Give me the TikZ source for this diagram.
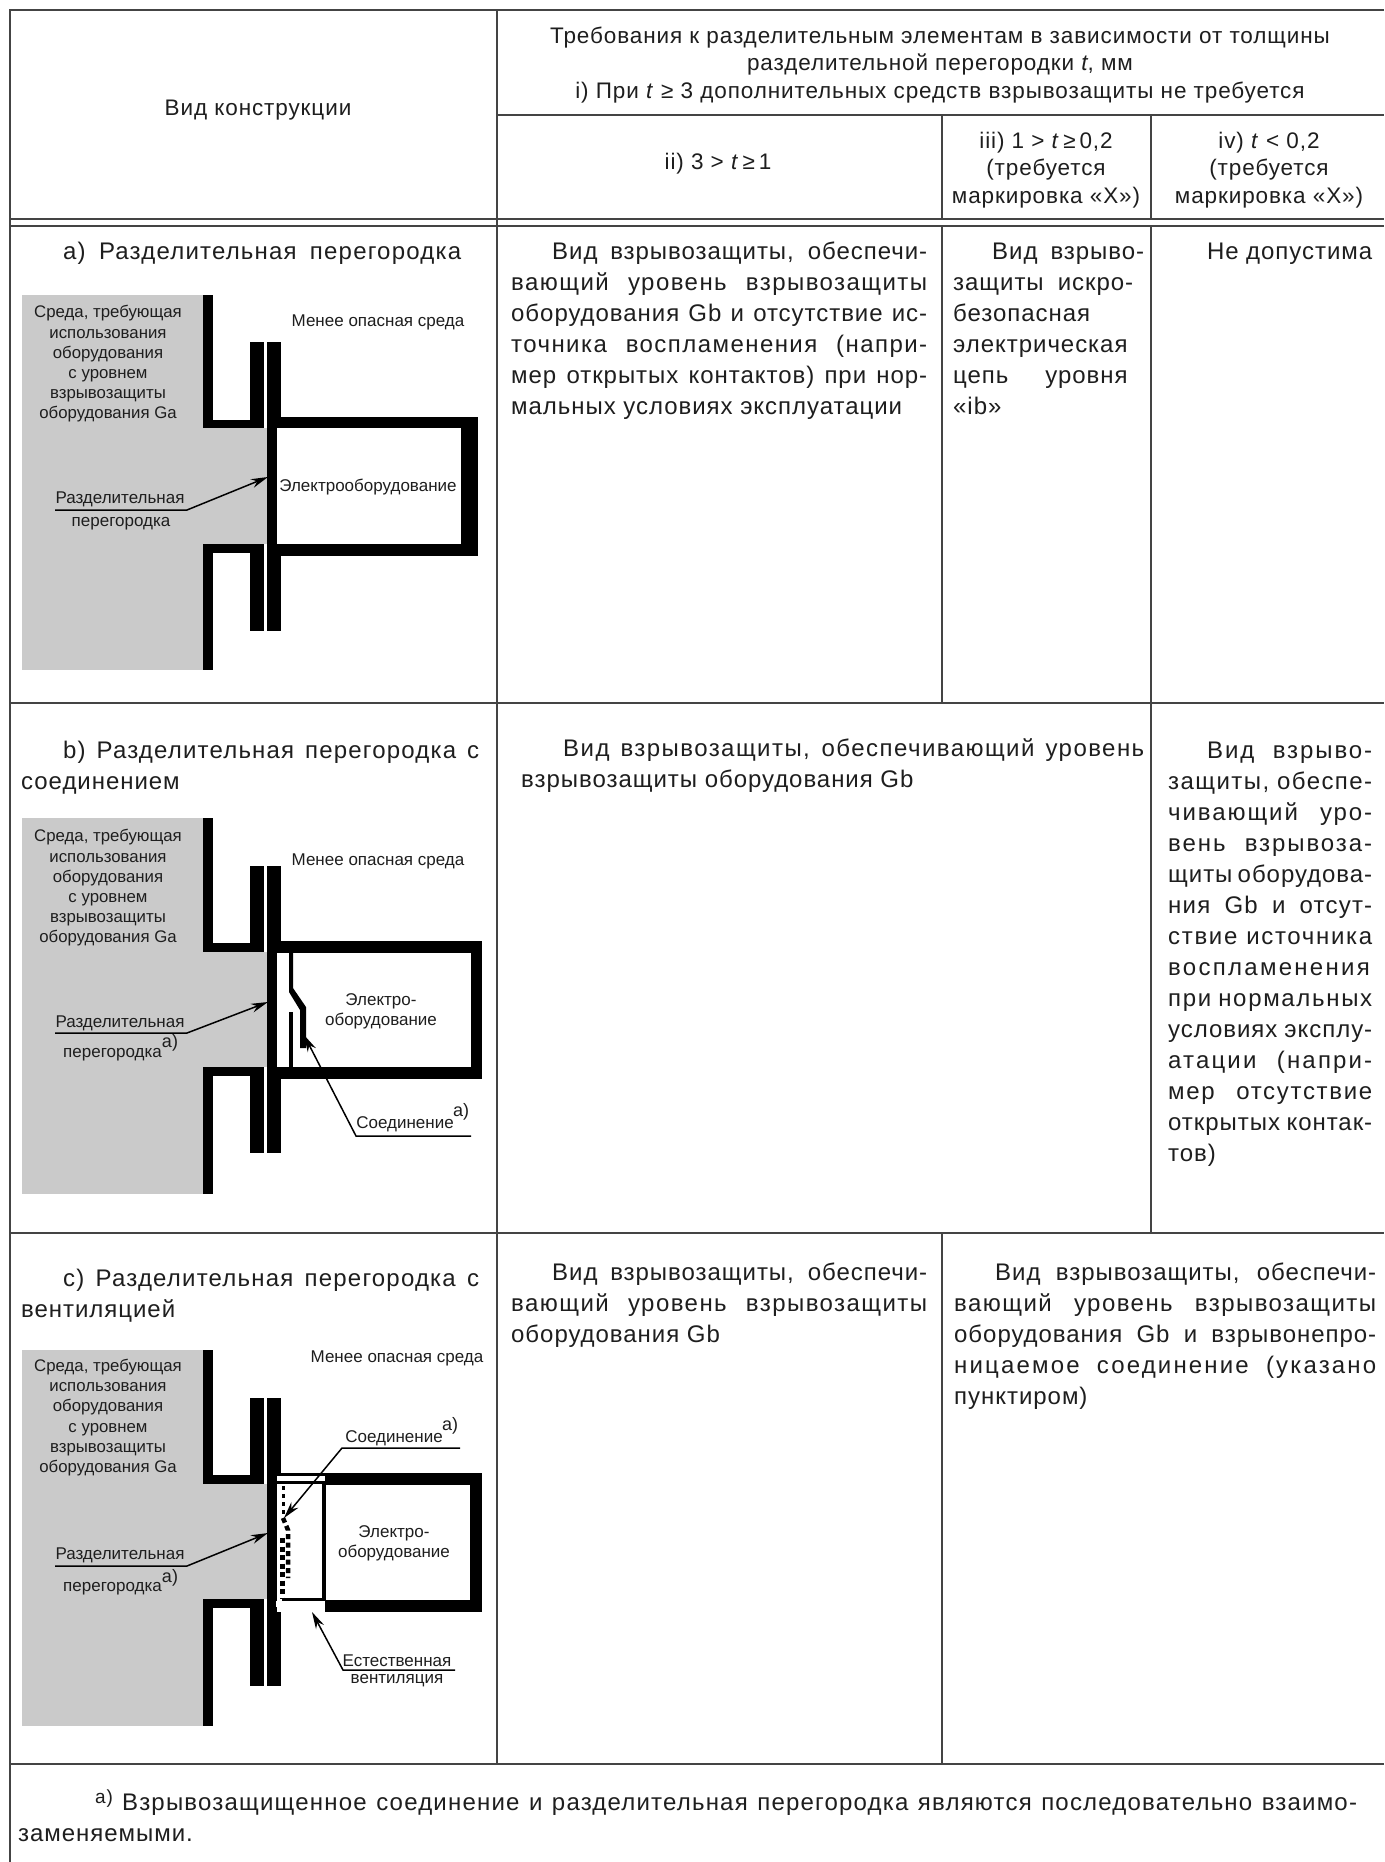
\documentclass[tikz,border=0pt]{standalone}
\usepackage{fontspec}
\usepackage{amsmath}
\setmainfont{Liberation Sans}
\newfontfamily\bodyf[LetterSpace=4]{Liberation Sans}
\usetikzlibrary{arrows.meta}
\definecolor{ink}{HTML}{1E1E1E}
\definecolor{rule}{HTML}{444444}
\definecolor{zone}{HTML}{CACACA}
\tolerance=10000 \hbadness=10000 \hfuzz=30pt
\newcommand{\fr}[4]{\fill[solid] (#1,#2) rectangle (#3,#4);}
\newcommand{\ls}[2]{{\addfontfeature{LetterSpace=#1}#2}}
\newcommand{\para}[6][0]{\node[bodytext,text width=#4 pt] (#5) at (#2,{#3-10.5}) {\hskip #1pt\rule{0pt}{18pt}\ignorespaces #6\par};}
\tikzset{
  grid/.style={draw=rule,line width=1.5pt},
  solid/.style={fill=black},
  bodytext/.style={anchor=north west,inner sep=0pt,align=justify,text=ink,font=\bodyf\fontsize{24}{31}\selectfont},
  headtext/.style={inner sep=0pt,align=center,text=ink,font=\bodyf\fontsize{22.5}{27.5}\selectfont},
  small/.style={inner sep=0pt,align=center,text=ink,yshift=-1.5pt,font=\fontsize{17}{20}\selectfont},
  stack/.style={small,font=\fontsize{16.8}{20.2}\selectfont},
  leader/.style={draw=black,line width=1.5pt,-{Stealth[length=17pt,width=9pt]}},
  sup/.style={inner sep=0pt,text=ink,font=\fontsize{18}{18}\selectfont},
}
\begin{document}
\begin{tikzpicture}[x=1pt,y=-1pt]
\useasboundingbox (0,0) rectangle (1384,1862);
\fill[white] (0,0) rectangle (1384,1862);
% grid
\draw[grid] (10,1862) -- (10,10) -- (1384,10);
\draw[grid] (497,10) -- (497,1764);
\draw[grid] (497,115) -- (1384,115);
\draw[grid] (942,115) -- (942,219);
\draw[grid] (1151,115) -- (1151,219);
\draw[grid] (10,219) -- (1384,219);
\draw[grid] (10,226) -- (1384,226);
\draw[grid] (942,226) -- (942,703);
\draw[grid] (1151,226) -- (1151,1233);
\draw[grid] (10,703) -- (1384,703);
\draw[grid] (10,1233) -- (1384,1233);
\draw[grid] (942,1233) -- (942,1764);
\draw[grid] (10,1764) -- (1384,1764);
% header
\node[headtext] (hVid) at (258,110.5) {Вид конструкции};
\node[headtext] (hReq) at (940,65) {Требования к разделительным элементам в зависимости от толщины\\разделительной перегородки \textit{t}, мм\\i) При \textit{t} ≥ 3 дополнительных средств взрывозащиты не требуется};
\node[headtext] (hii) at (718,164) {ii) 3 > \textit{t}\,≥\,1};
\node[headtext] (hiii) at (1046,170) {iii) 1 > \textit{t}\,≥\,0,2\\(требуется\\маркировка «Х»)};
\node[headtext] (hiv) at (1269,170) {iv) \textit{t} < 0,2\\(требуется\\маркировка «Х»)};
% row a text
\para[42]{21}{252}{440}{ta}{\ls{5}{а) Разделительная перегородка}\break}
\para[41]{511}{252}{416}{a2}{Вид взрывозащиты, обеспечи-\break \ls{6}{вающий уровень взрывозащиты}\break оборудования Gb и отсутствие ис-\break \ls{6}{точника воспламенения (напри-}\break мер открытых контактов) при нор-\break мальных условиях эксплуатации}
\para[39]{953}{252}{191}{a3}{Вид взрыво-\break защиты\hskip 14pt искро-\hfill\break безопасная\break электрическая\break цепь\hskip 37pt уровня\hfill\break «ib»}
\para{1207}{252}{165}{a4}{Не допустима}
% row b text
\para[42]{21}{751}{458}{tb}{\ls{5}{b) Разделительная перегородка с}\break соединением}
\para[42]{521}{749}{623}{b2}{\ls{6}{Вид взрывозащиты, обеспечивающий уровень}\break взрывозащиты оборудования Gb}
\para[39]{1168}{751}{204}{b4}{\ls{8}{Вид взрыво-}\break \ls{6}{защиты, обеспе-}\break \ls{8}{чивающий уро-}\break \ls{8}{вень взрывоза-}\break щиты оборудова-\break \ls{5}{ния Gb и отсут-}\break \ls{7}{ствие источника}\break \ls{9.5}{воспламенения}\break \ls{7}{при нормальных}\break условиях эксплу-\break \ls{9}{атации (напри-}\break \ls{7}{мер отсутствие}\break открытых контак-\break тов)}
% row c text
\para[42]{21}{1279}{458}{tc}{\ls{5}{c) Разделительная перегородка с}\break вентиляцией}
\para[41]{511}{1273}{416}{c2}{Вид взрывозащиты, обеспечи-\break \ls{6}{вающий уровень взрывозащиты}\break оборудования Gb}
\para[41]{954}{1273}{422}{c3}{Вид взрывозащиты, обеспечи-\break \ls{6}{вающий уровень взрывозащиты}\break оборудования Gb и взрывонепро-\break \ls{9}{ницаемое соединение (указано}\break пунктиром)}
% footnote
\para[0]{18}{1803}{1339}{fn}{\hskip 77pt\smash{\raisebox{7pt}{\fontsize{19}{19}\selectfont a)}} \ls{5}{Взрывозащищенное соединение и разделительная перегородка являются последовательно взаимо-}\break заменяемыми.}
%% figure a
\fill[zone] (22,295) rectangle (203,670);
\fill[zone] (203,428) rectangle (268,544);
\fr{203}{295}{213}{428}\fr{203}{420}{264}{428}\fr{250}{342}{264}{428}
\fr{203}{544}{264}{553}\fr{203}{544}{213}{670}\fr{250}{544}{264}{631}
\fr{267}{342}{281}{417}\fr{267}{556}{281}{631}
\fr{267}{417}{478}{428}\fr{267}{544}{478}{556}\fr{267}{417}{277}{556}\fr{461}{417}{478}{556}
\node[stack] (aEnv) at (108,362.5) {Среда, требующая\\использования\\оборудования\\с уровнем\\взрывозащиты\\оборудования Ga};
\node[small] (aLess) at (378,321) {Менее опасная среда};
\node[small] (aEq) at (368,486) {Электрооборудование};
\node[small] (aP1) at (120,498) {Разделительная};
\node[small] (aP2) at (121,522) {перегородка};
\coordinate (aL0) at (55,510); \coordinate (aL1) at (187,510); \coordinate (aT) at (268,477);
\draw[leader] (aL0) -- (aL1) -- (aT);
%% figure b
\fill[zone] (22,818) rectangle (203,1194);
\fill[zone] (203,952) rectangle (268,1067);
\fr{203}{818}{213}{952}\fr{203}{943}{264}{952}\fr{250}{866}{264}{952}
\fr{203}{1067}{264}{1076}\fr{203}{1067}{213}{1194}\fr{250}{1067}{264}{1153}
\fr{267}{866}{281}{941}\fr{267}{1079}{281}{1153}
\fr{267}{941}{482}{953}\fr{267}{1067}{482}{1079}\fr{267}{941}{277}{1079}\fr{471}{941}{482}{1079}
\fill (289,953) -- (293,953) -- (293,988) -- (306,1007) -- (306,1048) -- (300,1048) -- (300,1010) -- (289,992) -- cycle;
\fr{289}{1012}{293}{1067}
\node[stack] (bEnv) at (108,886.5) {Среда, требующая\\использования\\оборудования\\с уровнем\\взрывозащиты\\оборудования Ga};
\node[small] (bLess) at (378,860) {Менее опасная среда};
\node[small] (bEq) at (381,1010) {Электро-\\оборудование};
\node[small] (bP1) at (120,1022) {Разделительная};
\node[small] (bP2) at (112.5,1053) {перегородка};
\node[sup] (bS1) at (170,1043) {a)};
\node[small] (bC) at (405,1123) {Соединение};
\node[sup] (bS2) at (461,1112) {a)};
\coordinate (bL0) at (55,1033); \coordinate (bL1) at (187,1033); \coordinate (bT) at (268,1002);
\draw[leader] (bL0) -- (bL1) -- (bT);
\coordinate (bM0) at (471,1136); \coordinate (bM1) at (356,1136); \coordinate (bN) at (304,1035);
\draw[leader] (bM0) -- (bM1) -- (bN);
%% figure c
\fill[zone] (22,1350) rectangle (203,1726);
\fill[zone] (203,1484) rectangle (268,1599);
\fr{203}{1350}{213}{1484}\fr{203}{1475}{264}{1484}\fr{250}{1398}{264}{1484}
\fr{203}{1599}{264}{1608}\fr{203}{1599}{213}{1726}\fr{250}{1599}{264}{1686}
\fr{267}{1398}{281}{1476}\fr{267}{1612}{281}{1686}
\fr{267}{1476}{277}{1612}
\fr{281}{1473}{482}{1476}\fr{277}{1481}{326}{1484}
\fr{325}{1473}{482}{1485}\fr{325}{1600}{482}{1612}\fr{470}{1473}{482}{1612}
\fr{322}{1481}{326}{1601}\fr{282}{1598}{322}{1601}
\fill[white] (276,1601) rectangle (325,1607);
\coordinate (d1) at (283,1486); \coordinate (d2) at (283,1518); \coordinate (d3) at (288,1530); \coordinate (d4) at (288,1578);
\coordinate (d5) at (282.5,1538); \coordinate (d6) at (282.5,1598);
\draw[black,line width=3pt,dash pattern=on 4pt off 4pt] (d1) -- (d2);
\draw[black,line width=4.5pt,dash pattern=on 5pt off 3.5pt] (d2) -- (d3) -- (d4);
\draw[black,line width=4.5pt,dash pattern=on 5pt off 3.5pt] (d5) -- (d6);
\node[stack] (cEnv) at (108,1416) {Среда, требующая\\использования\\оборудования\\с уровнем\\взрывозащиты\\оборудования Ga};
\node[small] (cLess) at (397,1357) {Менее опасная среда};
\node[small] (cEq) at (394,1541.5) {Электро-\\оборудование};
\node[small] (cP1) at (120,1554) {Разделительная};
\node[small] (cP2) at (112.5,1587) {перегородка};
\node[sup] (cS1) at (170,1578) {a)};
\node[small] (cC) at (394,1437) {Соединение};
\node[sup] (cS2) at (450,1426) {a)};
\node[small] (cV1) at (397,1659) {Естественная};
\node[small] (cV2) at (397,1679) {вентиляция};
\coordinate (cL0) at (55,1566); \coordinate (cL1) at (187,1566); \coordinate (cT) at (268,1533);
\draw[leader] (cL0) -- (cL1) -- (cT);
\coordinate (cM0) at (460,1448); \coordinate (cM1) at (342,1448); \coordinate (cN) at (284,1518);
\draw[leader] (cM0) -- (cM1) -- (cN);
\coordinate (cQ0) at (455,1670); \coordinate (cQ1) at (343,1670); \coordinate (cR) at (312,1612);
\draw[leader] (cQ0) -- (cQ1) -- (cR);
\end{tikzpicture}
\end{document}
